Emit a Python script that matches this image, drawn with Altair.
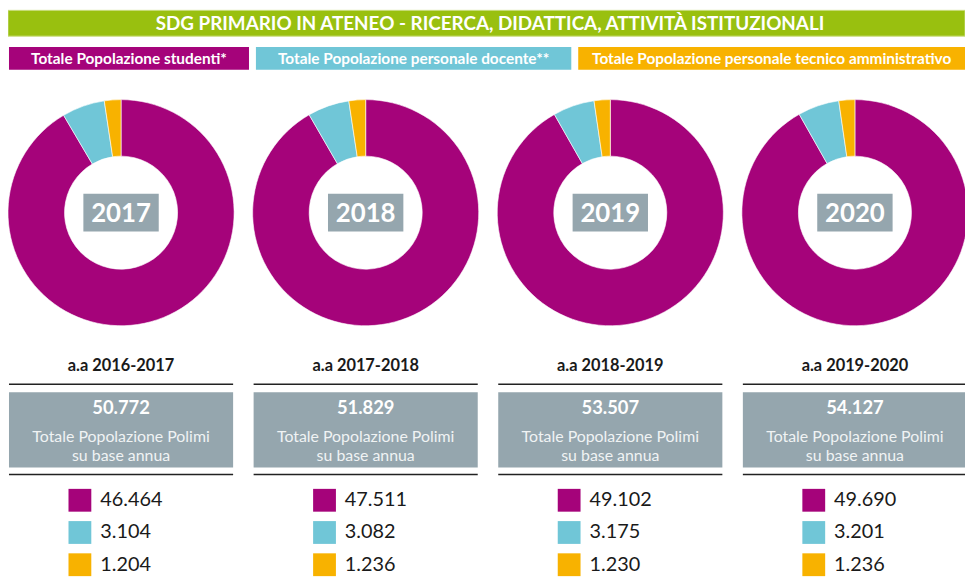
import math
import altair as alt
import pandas as pd

# ---------------- data ----------------
years = ["2017", "2018", "2019", "2020"]
periods = ["a.a 2016-2017", "a.a 2017-2018", "a.a 2018-2019", "a.a 2019-2020"]
categories = [
    "Totale Popolazione studenti*",
    "Totale Popolazione personale docente**",
    "Totale Popolazione personale tecnico amministrativo",
]
studenti = [46464, 47511, 49102, 49690]
docenti = [3104, 3082, 3175, 3201]
tecnico = [1204, 1236, 1230, 1236]
colors = ["#a5037a", "#70c6d7", "#f8b200"]
title_text = "SDG PRIMARIO IN ATENEO - RICERCA, DIDATTICA, ATTIVITÀ ISTITUZIONALI"
total_caption = ["Totale Popolazione Polimi", "su base annua"]

series = [studenti, docenti, tecnico]
rows = []
for i, (yr, per) in enumerate(zip(years, periods)):
    for k, cat in enumerate(categories):
        v = series[k][i]
        rows.append({"idx": i, "year": yr, "period": per, "cat": cat, "rank": k,
                     "value": v, "label": f"{v:,}".replace(",", ".")})
df = pd.DataFrame(rows)
one = pd.DataFrame({"d": [0]})

W, H = 965, 570
GREEN = "#99c00f"
GREY = "#95a6ae"
FONT = "Lato"

xs = alt.Scale(domain=[0, 3], range=[114, 854])
X = alt.X("idx:Q", scale=xs, axis=None, stack=None)
X2 = alt.X2("idx")
color = alt.Color("cat:N", scale=alt.Scale(domain=categories, range=colors), legend=None)

base = alt.Chart(df)

# header
header_bar = alt.Chart(one).mark_rect(color=GREEN, stroke="#c9dd7d", strokeWidth=1).encode(
    x=alt.value(0), x2=alt.value(W), y=alt.value(0), y2=alt.value(26))
header_txt = alt.Chart(one).mark_text(
    font=FONT, fontWeight="bold", fontSize=19, color="white",
    baseline="middle", align="center").encode(
    x=alt.value(486), y=alt.value(13.5), text=alt.value(title_text))

# legend boxes across the top
box_x = [(1, 243), (250, 568), (575, W)]
legend_layers = []
for k, cat in enumerate(categories):
    x0, x1 = box_x[k]
    legend_layers.append(alt.Chart(one).mark_rect(color=colors[k]).encode(
        x=alt.value(x0), x2=alt.value(x1), y=alt.value(37), y2=alt.value(60)))
    legend_layers.append(alt.Chart(one).mark_text(
        font=FONT, fontWeight="bold", fontSize=15.5, color="white",
        baseline="middle", align="center").encode(
        x=alt.value((x0 + x1) / 2), y=alt.value(49), text=alt.value(cat)))

# donuts: cumulative share per year
donut = base.transform_joinaggregate(
    ytot="sum(value)", groupby=["year"]
).transform_window(
    cum="sum(value)", groupby=["year"], sort=[alt.SortField("rank")], frame=[None, 0]
).transform_calculate(
    a1="datum.cum / datum.ytot",
    a0="(datum.cum - datum.value) / datum.ytot",
).mark_arc(radius=114, radius2=57, stroke="white", strokeWidth=0.6).encode(
    x=X, y=alt.value(204),
    theta=alt.Theta("a0:Q", stack=None,
                    scale=alt.Scale(domain=[0, 1], range=[0, 2 * math.pi])),
    theta2=alt.Theta2("a1"),
    color=color,
)

per_year = base.transform_aggregate(
    total="sum(value)", groupby=["idx", "year", "period"]
).transform_calculate(tot_label="replace(format(datum.total, ','), ',', '.')")

year_box = per_year.mark_rect(color=GREY, xOffset=-38, x2Offset=38).encode(
    x=X, x2=X2, y=alt.value(185), y2=alt.value(223))
year_txt = per_year.mark_text(font=FONT, fontWeight="bold", fontSize=26, color="white",
                              baseline="middle").encode(
    x=X, y=alt.value(205), text="year:N")

period_txt = per_year.mark_text(font=FONT, fontWeight="bold", fontSize=16.5, color="#1a1a1a",
                                baseline="middle").encode(
    x=X, y=alt.value(359), text="period:N")
rule1 = per_year.mark_rule(color="#222222", strokeWidth=1.3, xOffset=-113, x2Offset=113).encode(
    x=X, x2=X2, y=alt.value(377))
grey_box = per_year.mark_rect(color=GREY, xOffset=-113, x2Offset=113).encode(
    x=X, x2=X2, y=alt.value(385), y2=alt.value(461))
total_txt = per_year.mark_text(font=FONT, fontWeight="bold", fontSize=18.5, color="white",
                               baseline="middle").encode(
    x=X, y=alt.value(401), text="tot_label:N")
cap1 = per_year.mark_text(font=FONT, fontSize=16, color="#f0f3f4", baseline="middle").encode(
    x=X, y=alt.value(430), text=alt.value(total_caption[0]))
cap2 = per_year.mark_text(font=FONT, fontSize=16, color="#f0f3f4", baseline="middle").encode(
    x=X, y=alt.value(449), text=alt.value(total_caption[1]))
rule2 = per_year.mark_rule(color="#222222", strokeWidth=1.3, xOffset=-113, x2Offset=113).encode(
    x=X, x2=X2, y=alt.value(468))

ys = alt.Y("cat:N", scale=alt.Scale(domain=categories, range=[494, 559], padding=0), axis=None)
squares = base.mark_square(size=529, opacity=1, xOffset=-41.5).encode(
    x=X, y=ys, color=color)
values_txt = base.mark_text(font=FONT, fontSize=20, color="#1a1a1a", align="left",
                            baseline="middle", xOffset=-21).encode(
    x=X, y=ys, text="label:N")

chart = alt.layer(
    header_bar, header_txt, *legend_layers,
    donut, year_box, year_txt,
    period_txt, rule1, grey_box, total_txt, cap1, cap2, rule2,
    squares, values_txt,
).properties(
    width=W, height=H,
    autosize=alt.AutoSizeParams(type="none"), padding=0,
).configure_view(stroke=None)

chart.save("out.html", embed_options={"renderer": "svg", "actions": False})
